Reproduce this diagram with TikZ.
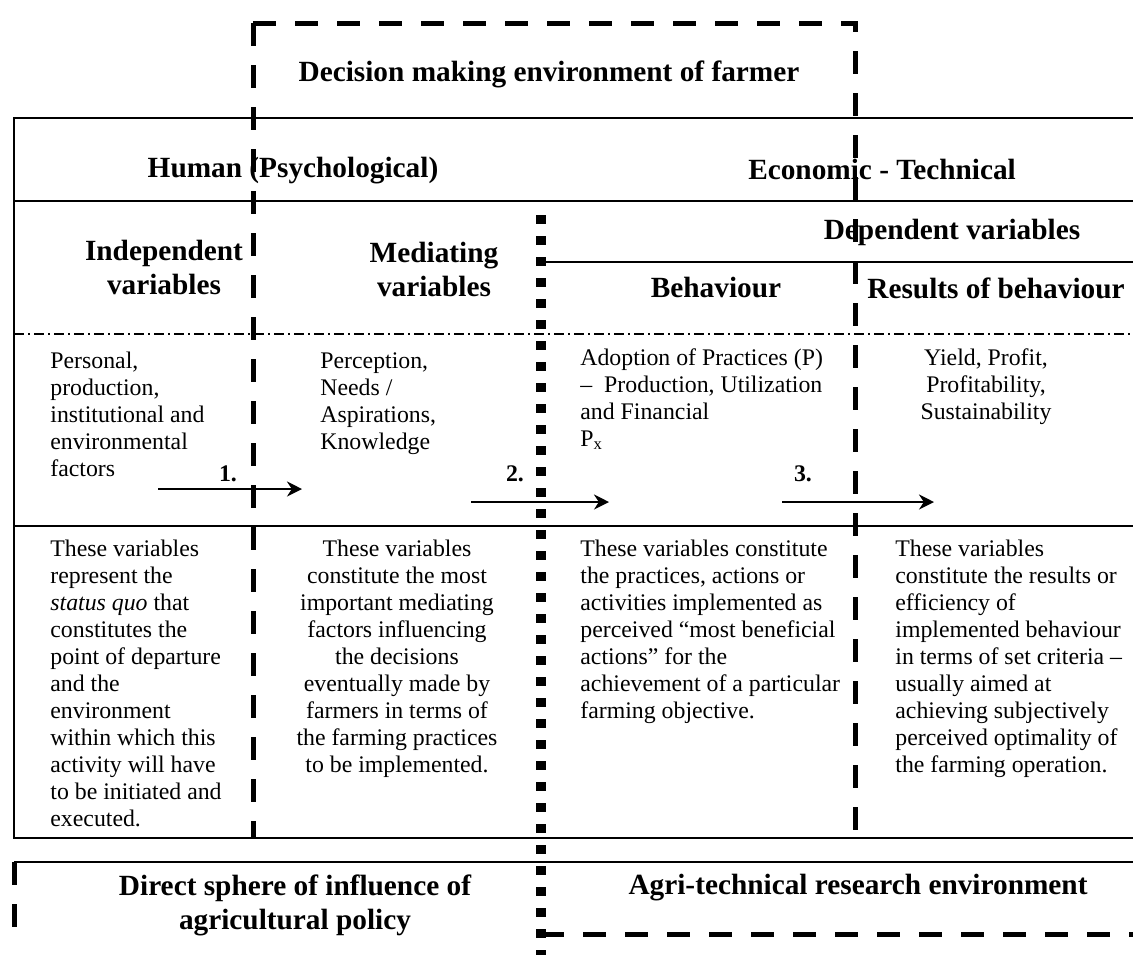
\documentclass[tikz,border=0pt]{standalone}
\usepackage{fontspec}
\setmainfont{Liberation Serif}
\usepackage{tikz}
\usetikzlibrary{arrows.meta}
\tikzset{
  hdr/.style={font=\fontsize{14.65}{17}\selectfont\bfseries, align=center, inner sep=0pt},
  txt/.style={font=\fontsize{11.9}{13.5}\selectfont, anchor=north west, align=left, inner sep=0pt},
  ctxt/.style={font=\fontsize{11.9}{13.5}\selectfont, anchor=north, align=center, inner sep=0pt},
  num/.style={font=\fontsize{11.9}{13.5}\selectfont\bfseries, inner sep=0pt},
  gridline/.style={line width=1.2pt},
  rowline/.style={line width=1pt, dash pattern=on 5pt off 2pt on 1pt off 2pt},
  envline/.style={line width=2.5pt, dash pattern=on 11.5pt off 9.5pt},
  splitline/.style={line width=4.7pt, dash pattern=on 4.7pt off 5.8pt},
  flow/.style={-{Stealth[length=7.5pt, width=7.5pt]}, line width=1.2pt},
}

\begin{document}
\begin{tikzpicture}[x=0.5pt, y=-0.5pt]
    \useasboundingbox (0,0) rectangle (1133,955);

    \node[hdr] (decision) at (549,74) {Decision making environment of farmer};
    \node[hdr] (human) at (293,171) {Human (Psychological)};
    \node[hdr] (econ) at (882,169) {Economic - Technical};
    \node[hdr] (indephd) at (164,267) {Independent\\variables};
    \node[hdr] (medhd) at (434,269) {Mediating\\variables};
    \node[hdr] (dephd) at (952,232) {Dependent variables};
    \node[hdr] (behhd) at (716,288) {Behaviour};
    \node[hdr] (reshd) at (996,288) {Results of behaviour};

    \node[txt] (personal) at (50,352) {Personal,\\production,\\institutional and\\environmental\\factors};
    \node[txt] (perception) at (320,352) {Perception,\\Needs /\\Aspirations,\\Knowledge};
    \node[txt] (adoption) at (580,348) {Adoption of Practices (P)\\–~~Production, Utilization\\and Financial\\P\textsubscript{x}};
    \node[ctxt] (yield) at (986,348) {Yield, Profit,\\Profitability,\\Sustainability};

    \node[num] (n1) at (228,474) {1.};
    \node[num] (n2) at (515,474) {2.};
    \node[num] (n3) at (803,474) {3.};
    \coordinate (a1s) at (158,489); \coordinate (a1e) at (302,489);
    \coordinate (a2s) at (471,502); \coordinate (a2e) at (609,502);
    \coordinate (a3s) at (782,502); \coordinate (a3e) at (934,502);
    \draw[flow] (a1s) -- (a1e);
    \draw[flow] (a2s) -- (a2e);
    \draw[flow] (a3s) -- (a3e);

    \node[txt] (indeptxt) at (50,540) {These variables\\represent the\\\textit{status quo} that\\constitutes the\\point of departure\\and the\\environment\\within which this\\activity will have\\to be initiated and\\executed.};
    \node[ctxt] (medtxt) at (397,540) {These variables\\constitute the most\\important mediating\\factors influencing\\the decisions\\eventually made by\\farmers in terms of\\the farming practices\\to be implemented.};
    \node[txt] (behtxt) at (580,540) {These variables constitute\\the practices, actions or\\activities implemented as\\perceived “most beneficial\\actions” for the\\achievement of a particular\\farming objective.};
    \node[txt] (restxt) at (895,540) {These variables\\constitute the results or\\efficiency of\\implemented behaviour\\in terms of set criteria –\\usually aimed at\\achieving subjectively\\perceived optimality of\\the farming operation.};

    \node[hdr] (policy) at (295,905) {Direct sphere of influence of\\agricultural policy};
    \node[hdr] (research) at (858,888) {Agri-technical research environment};

    \draw[gridline] (1133,118) -- (14,118) -- (14,838) -- (1133,838);
    \draw[gridline] (14,201) -- (1133,201);
    \draw[gridline] (541,262) -- (1133,262);
    \draw[rowline] (14,334) -- (1133,334);
    \draw[gridline] (14,526) -- (1133,526);
    \draw[gridline] (14,862) -- (1133,862);
    \draw[envline] (14,862) -- (14,935);
    \draw[envline] (541,934) -- (1133,934);
    \draw[envline] (253,23) -- (253,838);
    \draw[envline] (253,23) -- (855,23) -- (855,838);
    \draw[splitline] (541,215) -- (541,955);
\end{tikzpicture}
\end{document}
